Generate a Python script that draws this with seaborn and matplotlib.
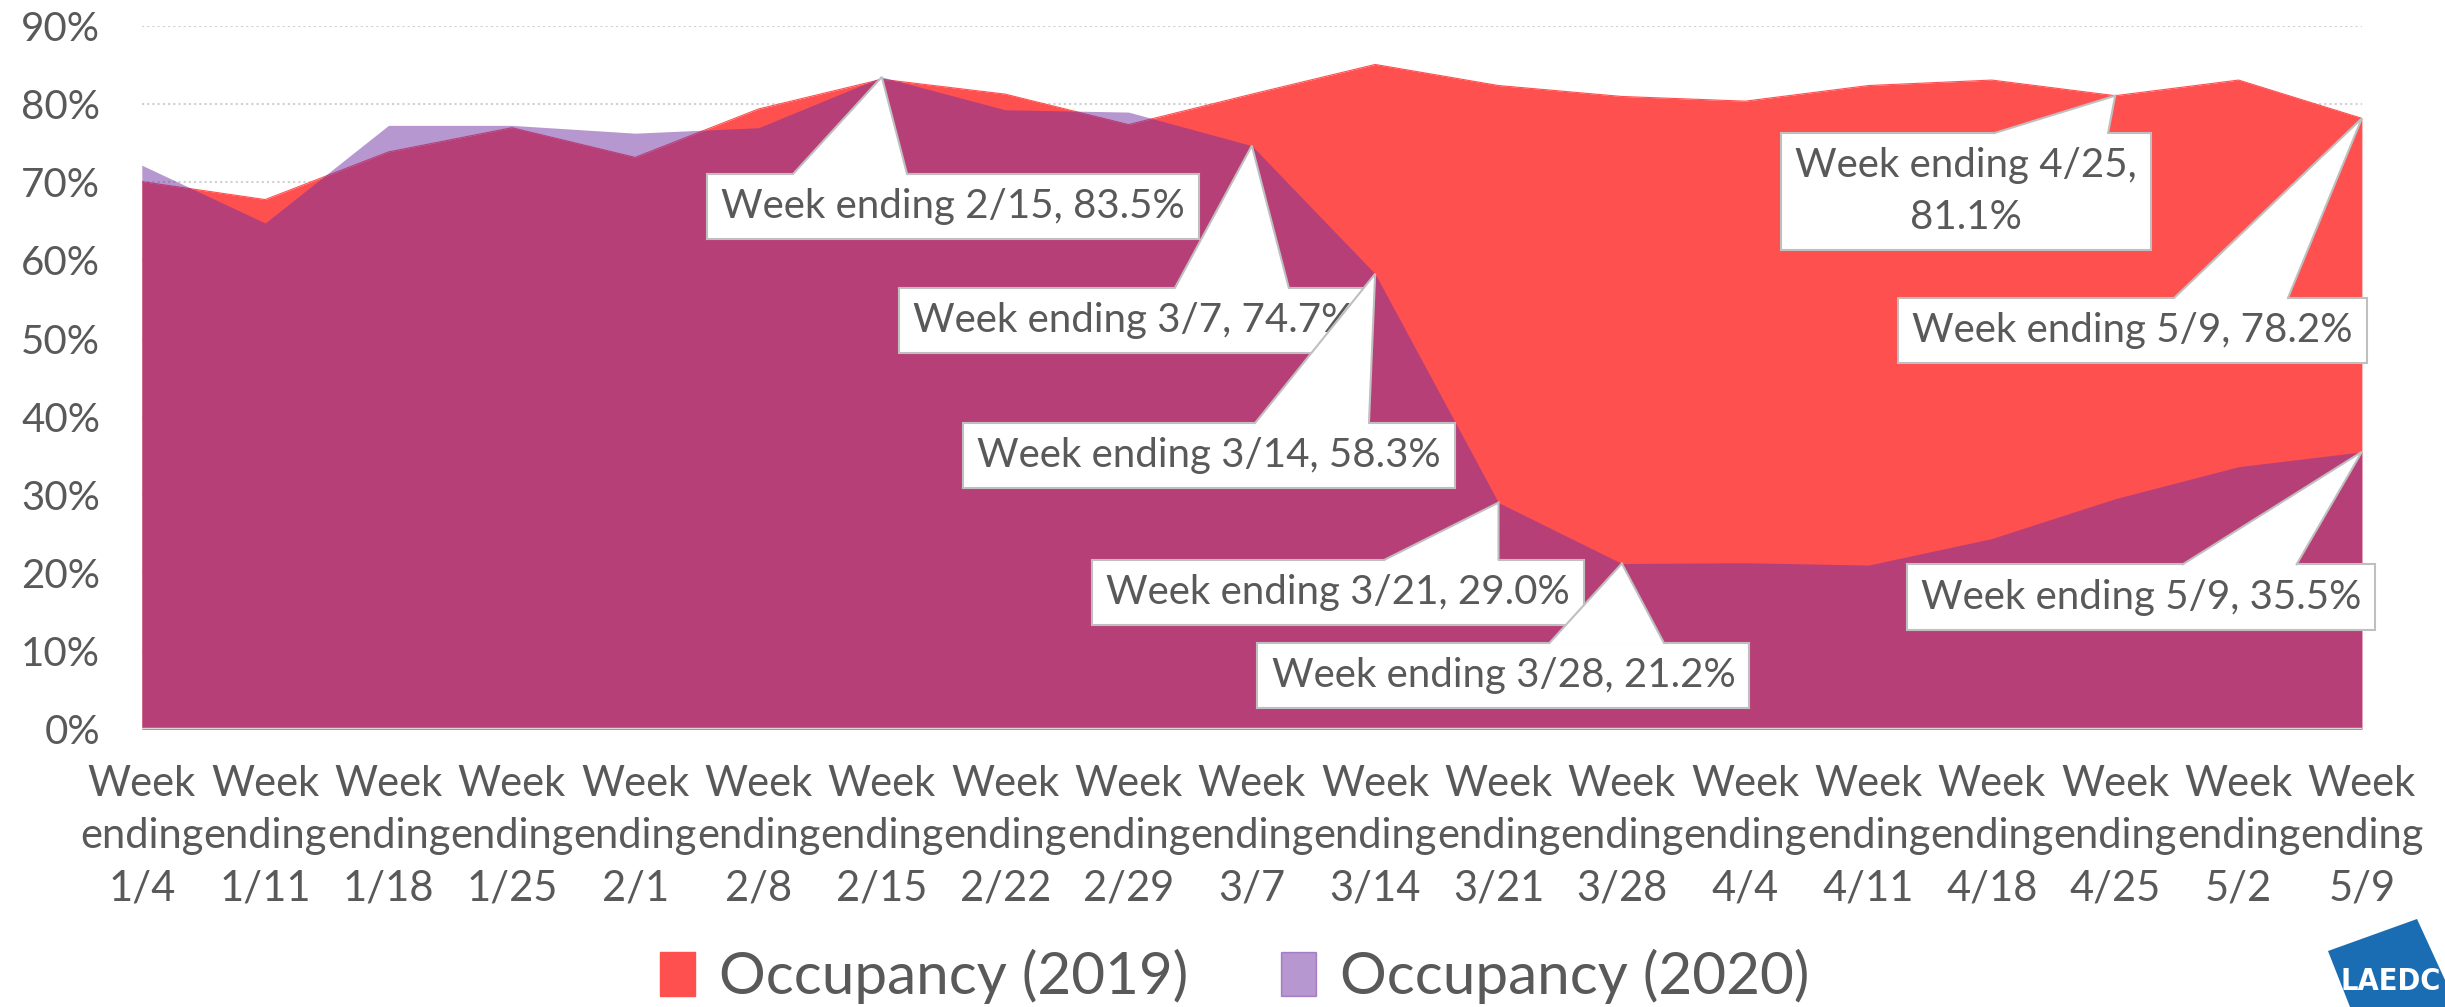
import numpy as np
import pandas as pd
import matplotlib
matplotlib.use("Agg")
import matplotlib.pyplot as plt
import seaborn as sns
from matplotlib.patches import Patch, Polygon

# weekly hotel occupancy, %
weeks = ["1/4", "1/11", "1/18", "1/25", "2/1", "2/8", "2/15", "2/22", "2/29", "3/7",
         "3/14", "3/21", "3/28", "4/4", "4/11", "4/18", "4/25", "5/2", "5/9"]
occ_2019 = [70.1, 67.8, 73.9, 77.0, 73.2, 79.4, 83.2, 81.3, 77.4, 81.3,
            85.1, 82.4, 81.0, 80.4, 82.4, 83.1, 81.1, 83.1, 78.2]
occ_2020 = [72.2, 64.8, 77.3, 77.3, 76.3, 77.0, 83.5, 79.3, 79.0, 74.7,
            58.3, 29.0, 21.2, 21.3, 21.0, 24.4, 29.5, 33.6, 35.5]
y_ticks = [0, 10, 20, 30, 40, 50, 60, 70, 80, 90]

RED = "#FF5050"
PURPLE = "#7030A0"
GREY = "#595959"
EDGE = "#BFBFBF"

sns.set_theme(style="white")
plt.rcParams["font.family"] = ["Lato", "DejaVu Sans"]

df = pd.DataFrame({"week": weeks, "2019": occ_2019, "2020": occ_2020})
df["pos"] = np.arange(len(df))

fig = plt.figure(figsize=(24.45, 10.07), dpi=100)
ax = fig.add_axes([0.058, 0.276, 0.908, 0.698])

# dotted gridlines behind the areas
for t in y_ticks[1:]:
    ax.axhline(t, color="#D0D0D0", lw=1.5, ls=(0, (1, 1.5)), zorder=0)

ax.fill_between(df["pos"], 0, df["2019"], color=RED, lw=0, zorder=1)
ax.fill_between(df["pos"], 0, df["2020"], color=PURPLE, alpha=0.5, lw=0, zorder=2)
sns.lineplot(data=df, x="pos", y="2019", ax=ax, color=RED, lw=0.8, zorder=1)
ax.axhline(0, color="#D9D9D9", lw=2.5, zorder=3)

ax.set_xlim(0, len(weeks) - 1)
ax.set_ylim(0, 90)
ax.set_yticks(y_ticks)
ax.set_yticklabels([f"{t}%" for t in y_ticks])
ax.set_xticks(df["pos"])
ax.set_xticklabels([f"Week\nending\n{w}" for w in weeks], linespacing=1.45)
ax.tick_params(axis="x", pad=26, labelsize=30, labelcolor=GREY, length=0)
ax.tick_params(axis="y", pad=30, labelsize=29, labelcolor=GREY, length=0)
ax.set_xlabel("")
ax.set_ylabel("")
for s in ax.spines.values():
    s.set_visible(False)

# callout labels: series, week, text, box centre, where the pointer leaves the box top
callouts = [
    ("2020", "2/15", "Week ending 2/15, 83.5%", (6.58, 66.9), 0.29),
    ("2020", "3/7", "Week ending 3/7, 74.7%", (8.04, 52.3), 0.71),
    ("2020", "3/14", "Week ending 3/14, 58.3%", (8.65, 35.0), 0.71),
    ("2020", "3/21", "Week ending 3/21, 29.0%", (9.70, 17.5), 0.71),
    ("2020", "3/28", "Week ending 3/28, 21.2%", (11.04, 6.9), 0.71),
    ("2019", "4/25", "Week ending 4/25,\n81.1%", (14.79, 68.8), 0.73),
    ("2019", "5/9", "Week ending 5/9, 78.2%", (16.14, 51.0), 0.71),
    ("2020", "5/9", "Week ending 5/9, 35.5%", (16.21, 16.9), 0.71),
]
boxes = []
for series, wk, label, xytext, rx in callouts:
    t = ax.text(*xytext, label, ha="center", va="center", fontsize=29, color=GREY,
                linespacing=1.5, zorder=5,
                bbox=dict(boxstyle="square,pad=0.35", fc="white", ec=EDGE, lw=1.5))
    boxes.append(t)

# pointers: triangle from the box's top edge to the data point
fig.canvas.draw()
inv = ax.transData.inverted()
half = 57  # half base width in px
for (series, wk, label, xytext, rx), t in zip(callouts, boxes):
    row = df[df["week"] == wk].iloc[0]
    apex = (row["pos"], row[series])
    bb = t.get_bbox_patch().get_window_extent()
    cx = bb.x0 + rx * bb.width
    l_top, r_top = inv.transform([(cx - half, bb.y1), (cx + half, bb.y1)])
    l_low, r_low = inv.transform([(cx - half + 1, bb.y1 - 2), (cx + half - 1, bb.y1 - 2)])
    ax.add_patch(Polygon([l_low, l_top, apex, r_top, r_low], closed=True,
                         fc="white", ec="none", zorder=6, clip_on=False))
    ax.plot([l_top[0], apex[0], r_top[0]], [l_top[1], apex[1], r_top[1]],
            color=EDGE, lw=1.5, zorder=6, clip_on=False, solid_joinstyle="miter")

handles = [Patch(color=RED, label="Occupancy (2019)"),
           Patch(color=PURPLE, alpha=0.5, label="Occupancy (2020)")]
fig.legend(handles=handles, loc="center", bbox_to_anchor=(0.505, 0.030), ncol=2,
           frameon=False, fontsize=42, labelcolor=GREY, handlelength=0.6,
           handleheight=0.8, handletextpad=0.4, columnspacing=1.6)

# LAEDC logo in the corner
corner = [(2328, 951), (2417, 919), (2445, 980), (2445, 1007), (2350, 1007)]
corner = np.array([(x / 2445, (1007 - y) / 1007) for x, y in corner])
fig.patches.append(Polygon(corner, closed=True, transform=fig.transFigure,
                           fc="#1A6DB3", ec="none"))
fig.text(2391 / 2445, (1007 - 982) / 1007, "LAEDC", color="white", fontsize=22,
         family="DejaVu Sans", fontstretch="condensed", fontweight="bold",
         ha="center", va="center")

fig.savefig("out.png", dpi=100)
